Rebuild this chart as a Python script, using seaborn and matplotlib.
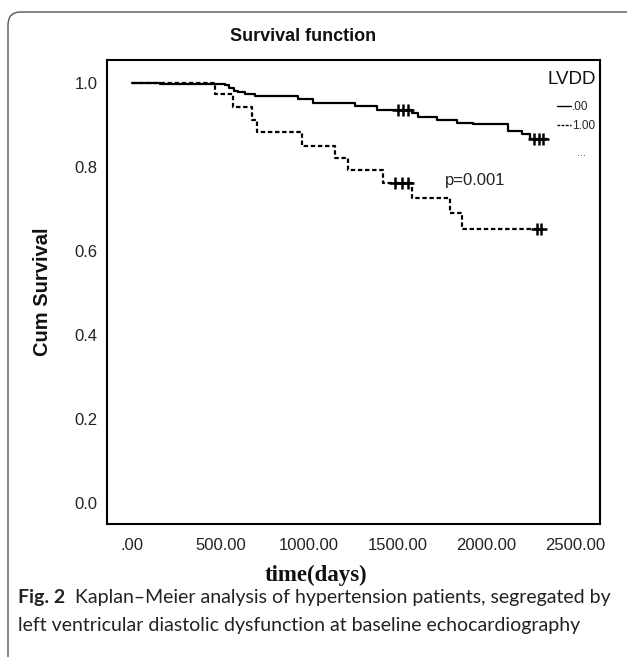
import matplotlib
matplotlib.use("Agg")
import matplotlib.pyplot as plt
import seaborn as sns
import pandas as pd
from matplotlib.lines import Line2D
from matplotlib.patches import FancyBboxPatch

# LVDD = .00 (solid)
times0 = [0, 160, 525, 550, 575, 600, 640, 694, 939, 1020, 1258, 1381, 1580, 1616,
          1719, 1832, 1926, 2124, 2199, 2246, 2340]
surv0 = [1.0, 0.997, 0.995, 0.988, 0.982, 0.978, 0.974, 0.969, 0.961, 0.953, 0.945,
         0.936, 0.929, 0.920, 0.912, 0.906, 0.902, 0.886, 0.878, 0.868, 0.868]
cens0_t = [1500, 1530, 1560, 2270, 2295, 2320]
cens0_s = [0.936, 0.936, 0.936, 0.868, 0.868, 0.868]

# LVDD = 1.00 (dashed)
times1 = [0, 468, 572, 675, 703, 957, 1146, 1221, 1418, 1578, 1794, 1860, 2321]
surv1 = [1.0, 0.975, 0.944, 0.912, 0.883, 0.851, 0.821, 0.794, 0.762, 0.726, 0.691,
         0.653, 0.653]
cens1_t = [1484, 1521, 1559, 2285, 2310]
cens1_s = [0.762, 0.762, 0.762, 0.653, 0.653]

xticks = [0, 500, 1000, 1500, 2000, 2500]
xticklabels = [".00", "500.00", "1000.00", "1500.00", "2000.00", "2500.00"]
yticks = [0.0, 0.2, 0.4, 0.6, 0.8, 1.0]

sns.set_style("white")
plt.rcParams["font.family"] = ["Liberation Sans", "DejaVu Sans"]

fig = plt.figure(figsize=(6.27, 6.57), dpi=100)
ax = fig.add_axes([0.1707, 0.2024, 0.7863, 0.7063])

d0 = pd.DataFrame({"t": times0, "s": surv0})
d1 = pd.DataFrame({"t": times1, "s": surv1})
sns.lineplot(data=d0, x="t", y="s", ax=ax, estimator=None, sort=False,
             drawstyle="steps-post", color="black", lw=1.6)
sns.lineplot(data=d1, x="t", y="s", ax=ax, estimator=None, sort=False,
             drawstyle="steps-post", color="black", lw=1.6, linestyle=(0, (2, 1.2)))
sns.scatterplot(x=cens0_t, y=cens0_s, ax=ax, marker="+", color="black", s=70, linewidth=1.8)
sns.scatterplot(x=cens1_t, y=cens1_s, ax=ax, marker="+", color="black", s=70, linewidth=1.8)

ax.set_xlim(-141, 2641)
ax.set_ylim(-0.05, 1.055)
ax.set_xticks(xticks)
ax.set_xticklabels(xticklabels)
ax.set_yticks(yticks)
ax.set_yticklabels([f"{v:.1f}" for v in yticks])
ax.tick_params(axis="both", length=0, labelsize=12, colors="#222222")
ax.tick_params(axis="x", pad=10)
ax.tick_params(axis="y", pad=7)
for sp in ax.spines.values():
    sp.set_color("black")
    sp.set_linewidth(1.5)
ax.set_xlabel("")
ax.set_ylabel("")

ax.text(1766, 0.769, "p=0.001", fontsize=12, va="center", ha="left", color="#222222")

# legend
ax.text(0.992, 0.959, "LVDD", transform=ax.transAxes, fontsize=13.5, ha="right",
        va="center", color="#111111")
handles = [Line2D([], [], color="black", lw=1.0, drawstyle="steps-post"),
           Line2D([], [], color="black", lw=1.0, linestyle=(0, (2, 1)))]
ax.legend(handles, [".00", "1.00"], loc="upper right",
          bbox_to_anchor=(1.0, (524 - 96) / 464), frameon=False, fontsize=8.5,
          handlelength=1.2, handletextpad=0.1, labelspacing=0.6, borderaxespad=0.2,
          borderpad=0.2)
ax.text(0.963, (524 - 153) / 464, "...", transform=ax.transAxes, fontsize=8,
        ha="center", va="center", color="#444444")

fig.text(0.483, 0.944, "Survival function", fontsize=13, fontweight="bold",
         ha="center", va="center", color="#111111")
fig.text(43 / 627, 1 - 292 / 657, "Cum Survival", fontsize=14.5, fontweight="bold",
         rotation=90, ha="center", va="center", color="#111111")
fig.text(316 / 627, 1 - 575 / 657, "time(days)", fontsize=16.5, fontweight="bold",
         family="Liberation Serif", ha="center", va="center", color="#111111")

# caption
cap_font = ["Lato", "DejaVu Sans"]
t1 = fig.text(18 / 627, 1 - 597 / 657, "Fig. 2", fontsize=14, fontweight="bold",
              family=cap_font, va="center", ha="left", color="#222222")
ax.annotate("  Kaplan\u2013Meier analysis of hypertension patients, segregated by",
            xy=(1, 0), xycoords=t1, va="bottom", ha="left", fontsize=14,
            family=cap_font, color="#222222", annotation_clip=False)
fig.text(18 / 627, 1 - 625 / 657,
         "left ventricular diastolic dysfunction at baseline echocardiography",
         fontsize=14, family=cap_font, va="center", ha="left", color="#222222")

box = FancyBboxPatch((8 / 627, -0.05), 1.2, 1 - 12 / 657 + 0.05,
                     boxstyle="round,pad=0,rounding_size=0.02",
                     transform=fig.transFigure, fill=False, ec="#555555", lw=1.0)
fig.patches.append(box)

fig.savefig("out.png", dpi=100)
